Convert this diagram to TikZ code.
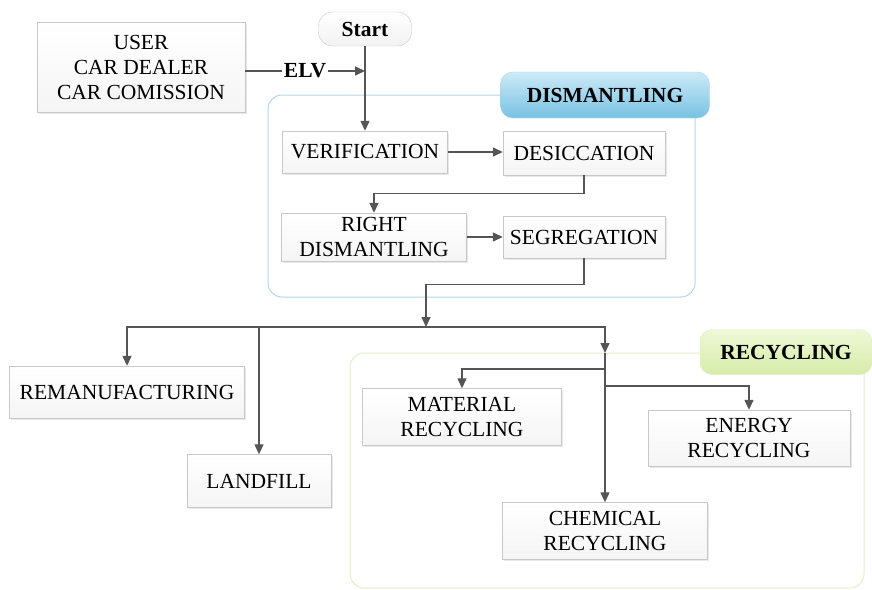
\documentclass[tikz,border=0pt]{standalone}
\usepackage{fontspec}
\setmainfont{Liberation Serif}
\usepackage{tikz}
\usetikzlibrary{arrows.meta,positioning,calc,shadows}
\definecolor{linegray}{RGB}{85,85,85}
\definecolor{boxedge}{RGB}{200,200,200}
\definecolor{dismedge}{RGB}{178,214,230}
\definecolor{dismtop}{RGB}{205,234,247}
\definecolor{dismbot}{RGB}{120,194,228}
\definecolor{recedge}{RGB}{226,238,196}
\definecolor{rectop}{RGB}{238,248,214}
\definecolor{recbot}{RGB}{214,236,170}

\begin{document}
\begin{tikzpicture}[
        x=1pt, y=-1pt,
        font=\fontsize{21.5}{25}\selectfont,
        stepbox/.style={rectangle, draw=boxedge, top color=white, bottom color=gray!8, align=center, inner sep=2pt,
            drop shadow={opacity=0.18, shadow xshift=1.5pt, shadow yshift=-1.5pt}},
        pill/.style={rectangle, rounded corners=14pt, draw=boxedge, top color=white, bottom color=gray!10, font=\fontsize{21.5}{25}\selectfont\bfseries,
            minimum width=93pt, minimum height=34pt},
        group/.style={rounded corners=14pt, line width=1pt},
        tab/.style={rectangle, rounded corners=12pt, font=\fontsize{21.5}{25}\selectfont\bfseries},
        line/.style={draw=linegray, line width=1.3pt},
        arrow/.style={line, -{Triangle[length=10pt,width=9pt]}}
    ]
        \useasboundingbox (0,0) rectangle (872,589);

        % Groups
        \draw[group, draw=dismedge] (268,95) rectangle (695,297);
        \node[tab, draw=dismedge, top color=dismtop, bottom color=dismbot, minimum width=209pt, minimum height=46pt] (disttab) at (605,95) {DISMANTLING};
        \draw[group, draw=recedge] (350,353) rectangle (864,588);
        \node[tab, draw=recedge, top color=rectop, bottom color=recbot, minimum width=172pt, minimum height=45pt] (rectab) at (786,352) {RECYCLING};

        % Nodes
        \node[pill] (start) at (365,29) {Start};
        \node[stepbox, minimum width=208pt, minimum height=90pt] (user) at (141,67) {USER\\CAR DEALER\\CAR COMISSION};
        \node[stepbox, minimum width=165pt, minimum height=42pt] (verif) at (365,152) {VERIFICATION};
        \node[stepbox, minimum width=162pt, minimum height=44pt] (desic) at (584,153) {DESICCATION};
        \node[stepbox, minimum width=185pt, minimum height=48pt] (rdism) at (374,237) {RIGHT\\DISMANTLING};
        \node[stepbox, minimum width=162pt, minimum height=42pt] (segr) at (584,237) {SEGREGATION};
        \node[stepbox, minimum width=235pt, minimum height=52pt] (reman) at (127,392) {REMANUFACTURING};
        \node[stepbox, minimum width=144pt, minimum height=53pt] (landf) at (259,481) {LANDFILL};
        \node[stepbox, minimum width=199pt, minimum height=57pt] (matrec) at (462,417) {MATERIAL\\RECYCLING};
        \node[stepbox, minimum width=202pt, minimum height=56pt] (enrec) at (749,438) {ENERGY\\RECYCLING};
        \node[stepbox, minimum width=205pt, minimum height=57pt] (chemrec) at (605,531) {CHEMICAL\\RECYCLING};

        \coordinate (elvend) at (365,71);
        \coordinate (split) at (426,327);
        \coordinate (recin) at (605,353);

        % Arrows
        \draw[arrow] (start.south) -- (start.south |- verif.north);
        \draw[arrow] (user.east |- elvend) -- node[fill=white, inner sep=2pt, font=\fontsize{21.5}{25}\selectfont\bfseries] {ELV} (elvend);
        \draw[arrow] (verif.east) -- (verif.east -| desic.west);
        \draw[arrow] (desic.south) -- ++(0,18) -| (rdism.north);
        \draw[arrow] (rdism) -- (segr);
        \draw[arrow] (segr.south) -- ++(0,26) -| (split);
        \draw[arrow] (split) -| (reman.north);
        \draw[arrow] (split) -| (landf.north);
        \draw[arrow] (split) -| (recin);
        \draw[arrow] (recin) -- (chemrec.north);
        \draw[arrow] ($(recin)+(0,16)$) -| (matrec.north);
        \draw[arrow] ($(recin)+(0,33)$) -| (enrec.north);

    \end{tikzpicture}
\end{document}
